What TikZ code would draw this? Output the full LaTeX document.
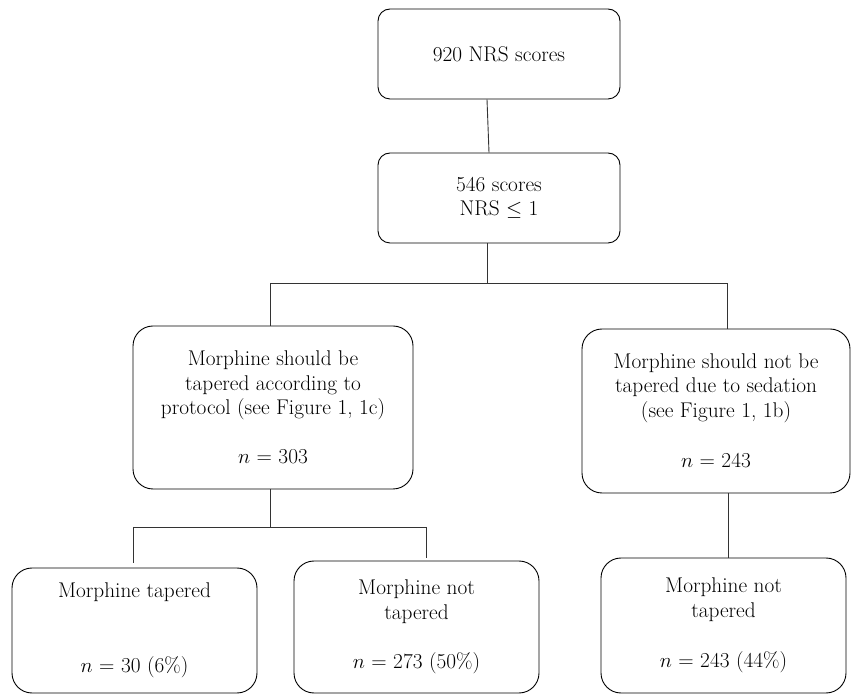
\documentclass[tikz,border=0pt]{standalone}
\usepackage{amsmath,amssymb}
\usepackage{tikz}
\usetikzlibrary{
	positioning,
	arrows.meta
}

\tikzset{
	flowbox/.style={draw,line width=0.9pt,rounded corners=20pt,align=center,
		inner sep=0pt,font=\fontsize{21.3}{24.5}\selectfont},
	topbox/.style={flowbox,rounded corners=12pt,minimum width=242pt,minimum height=90pt},
	wire/.style={line width=0.9pt,black!80}
}

\begin{document}
\begin{tikzpicture}[x=1pt,y=1pt]
		\useasboundingbox (0,0) rectangle (852,694);
		\draw
			node [topbox] (all) at (499,640) {920 NRS scores}
			node [topbox] (low) at (499,496) {546 scores\\NRS $\leq$ 1}
			node [flowbox,minimum width=280pt,minimum height=163pt] (taper) at (273,286.5)
				{Morphine should be\\tapered according to\\protocol (see Figure 1, 1c)\\[24.5pt]$n$ = 303}
			node [flowbox,minimum width=268pt,minimum height=164pt] (sed) at (716,283)
				{Morphine should not be\\tapered due to sedation\\(see Figure 1, 1b)\\[26pt]$n$ = 243}
			node [flowbox,minimum width=245pt,minimum height=125pt] (tapyes) at (134.5,63.5)
				{Morphine tapered\\[50pt]$n$ = 30 (6\%)}
			node [flowbox,minimum width=245pt,minimum height=132pt] (tapno) at (416.5,67)
				{Morphine not\\tapered\\[25pt]$n$ = 273 (50\%)}
			node [flowbox,minimum width=245pt,minimum height=135pt] (sedno) at (723.5,68.5)
				{Morphine not\\tapered\\[26pt]$n$ = 243 (44\%)}
		;

		% split points
		\coordinate (split1) at (487,411);
		\coordinate (split2) at (270,167);

		\draw [wire] ([xshift=-12pt]all.south) -- ([xshift=-10pt]low.north);
		\draw [wire] ([xshift=-12pt]low.south) -- (split1);
		\draw [wire] ([xshift=-3pt]split1 -| taper.north) -- ([xshift=-3pt]taper.north);
		\draw [wire] ([xshift=-3pt]split1 -| taper.north) -- ([xshift=11pt]split1 -| sed.north)
			-- ([xshift=11pt]sed.north);
		\draw [wire] ([xshift=-3pt]taper.south) -- (split2);
		\draw [wire] ([xshift=-1.5pt]split2 -| tapyes.north) -- ([xshift=9.5pt]split2 -| tapno.north);
		\draw [wire,shorten >=5pt] ([xshift=-1.5pt]split2 -| tapyes.north) -- ([xshift=-1.5pt]tapyes.north);
		\draw [wire,shorten >=3pt] ([xshift=9.5pt]split2 -| tapno.north) -- ([xshift=9.5pt]tapno.north);
		\draw [wire] ([xshift=12pt]sed.south) -- ([xshift=4.5pt]sedno.north);
\end{tikzpicture}
\end{document}
